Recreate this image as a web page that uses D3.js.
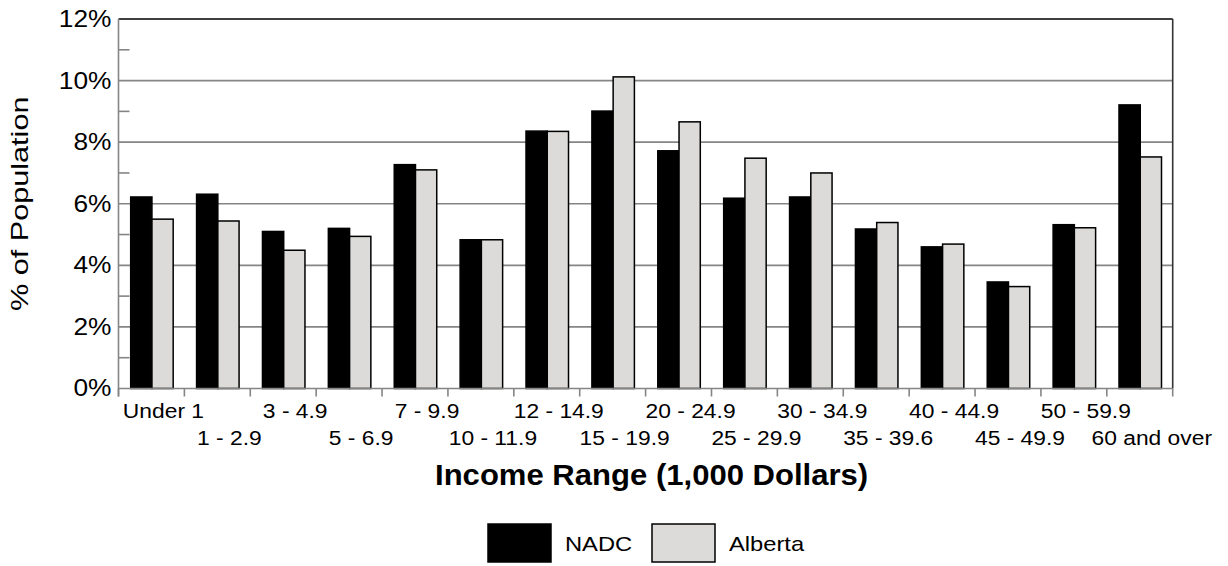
<!DOCTYPE html>
<html>
<head>
<meta charset="utf-8">
<script src="https://cdn.jsdelivr.net/npm/d3@7"></script>
<style>
  html, body { margin: 0; padding: 0; background: #fff; }
  svg { display: block; font-family: "Liberation Sans", Arial, Helvetica, sans-serif; }
</style>
</head>
<body>
<svg id="chart" width="1228" height="566"></svg>
<script>
// ---- data ----
const categories = ["Under 1","1 - 2.9","3 - 4.9","5 - 6.9","7 - 9.9","10 - 11.9","12 - 14.9","15 - 19.9","20 - 24.9","25 - 29.9","30 - 34.9","35 - 39.6","40 - 44.9","45 - 49.9","50 - 59.9","60 and over"];
const seriesNames = ["NADC", "Alberta"];
const nadcValues = [6.22, 6.31, 5.10, 5.20, 7.27, 4.83, 8.36, 9.01, 7.72, 6.18, 6.22, 5.18, 4.60, 3.46, 5.32, 9.21];
const albertaValues = [5.50, 5.44, 4.49, 4.94, 7.10, 4.83, 8.35, 10.12, 8.66, 7.48, 7.00, 5.39, 4.69, 3.31, 5.22, 7.52];
const yMajorTicks = [0, 2, 4, 6, 8, 10, 12];
const yMinorTicks = [1, 3, 5, 7, 9, 11];
const xTitle = "Income Range (1,000 Dollars)";
const yTitle = "% of Population";

// ---- layout ----
const L = 118.5, R = 1172.7, T = 19, B = 388.5;
const colors = { NADC: "#000000", Alberta: "#dcdbd9" };
const axisGray = "#858585";
const sx = 1.13; // horizontal glyph widening

const svg = d3.select("#chart");

const x0 = d3.scaleBand().domain(categories).range([L, R]).paddingInner(0).paddingOuter(0);
const bw = x0.bandwidth();
const x1 = d3.scaleBand().domain(seriesNames).range([bw * 0.185, bw * 0.83]).padding(0);
const y = d3.scaleLinear().domain([0, 12]).range([B, T]);

const rows = categories.map((c, i) => ({ cat: c, NADC: nadcValues[i], Alberta: albertaValues[i] }));

// gridlines (major)
svg.append("g").selectAll("line").data(yMajorTicks.filter(v => v > 0 && v < 12)).join("line")
  .attr("x1", L).attr("x2", R).attr("y1", d => y(d)).attr("y2", d => y(d))
  .attr("stroke", axisGray).attr("stroke-width", 1.6);

// minor ticks inside
svg.append("g").selectAll("line").data(yMinorTicks).join("line")
  .attr("x1", L).attr("x2", L + 11).attr("y1", d => y(d)).attr("y2", d => y(d))
  .attr("stroke", axisGray).attr("stroke-width", 1.6);

// top border & right border
svg.append("line").attr("x1", L).attr("x2", R).attr("y1", y(12)).attr("y2", y(12))
  .attr("stroke", "#000").attr("stroke-width", 1.6);
svg.append("line").attr("x1", R).attr("x2", R).attr("y1", y(12)).attr("y2", y(0))
  .attr("stroke", "#333").attr("stroke-width", 1.6);

// bars
const groups = svg.append("g").selectAll("g").data(rows).join("g")
  .attr("transform", d => `translate(${x0(d.cat)},0)`);
groups.selectAll("rect").data(d => seriesNames.map(s => ({ s, v: d[s] }))).join("rect")
  .attr("x", d => x1(d.s))
  .attr("width", x1.bandwidth())
  .attr("y", d => y(d.v))
  .attr("height", d => y(0) - y(d.v))
  .attr("fill", d => colors[d.s])
  .attr("stroke", "#000")
  .attr("stroke-width", 1.5);

// y axis
const yAxis = svg.append("g").attr("transform", `translate(${L},0)`)
  .call(d3.axisLeft(y).tickValues(yMajorTicks).tickSize(0).tickPadding(7).tickFormat(d => d + "%"));
yAxis.select(".domain").attr("stroke", axisGray).attr("stroke-width", 1.6)
  .attr("d", `M0,${y(12)}V${B + 8}`);
yAxis.selectAll("text")
  .attr("font-size", 23.3).attr("fill", "#000")
  .attr("font-family", "Liberation Sans, Arial, sans-serif")
  .attr("x", -7 / sx)
  .attr("transform", `scale(${sx},1)`);

// x axis: ticks at band boundaries
const xAxisG = svg.append("g").attr("transform", `translate(0,${B})`);
xAxisG.append("line").attr("x1", L).attr("x2", R).attr("y1", 0).attr("y2", 0)
  .attr("stroke", axisGray).attr("stroke-width", 1.6);
const boundaries = categories.map(c => x0(c)).concat([R]);
xAxisG.selectAll("line.tk").data(boundaries).join("line").attr("class", "tk")
  .attr("x1", d => d).attr("x2", d => d).attr("y1", 0).attr("y2", 8)
  .attr("stroke", axisGray).attr("stroke-width", 1.6);

// x labels (staggered)
svg.append("g").selectAll("text").data(categories).join("text")
  .attr("transform", (d, i) => `translate(${x0(d) + bw / 2 + 12},${i % 2 === 0 ? 418 : 444.5}) scale(${sx},1)`)
  .attr("text-anchor", "middle")
  .attr("font-size", 20.2)
  .attr("fill", "#000")
  .text(d => d);

// x title
svg.append("text")
  .attr("transform", `translate(${(L + R) / 2 + 6},485) scale(1.06,1)`)
  .attr("text-anchor", "middle")
  .attr("font-size", 29.3)
  .attr("font-weight", "bold")
  .attr("fill", "#000")
  .text(xTitle);

// y title
svg.append("text")
  .attr("transform", `translate(28,${(T + B) / 2}) rotate(-90) scale(1.25,1)`)
  .attr("text-anchor", "middle")
  .attr("font-size", 24.5)
  .attr("fill", "#000")
  .text(yTitle);

// legend
const legendX = [488, 652];
const leg = svg.append("g").selectAll("g").data(seriesNames).join("g")
  .attr("transform", (d, i) => `translate(${legendX[i]},524)`);
leg.append("rect").attr("width", 63).attr("height", 38)
  .attr("fill", d => colors[d]).attr("stroke", "#000").attr("stroke-width", 1.5);
leg.append("text")
  .attr("transform", `translate(77,26.5) scale(${sx},1)`)
  .attr("font-size", 21)
  .attr("fill", "#000")
  .text(d => d);
</script>
</body>
</html>
